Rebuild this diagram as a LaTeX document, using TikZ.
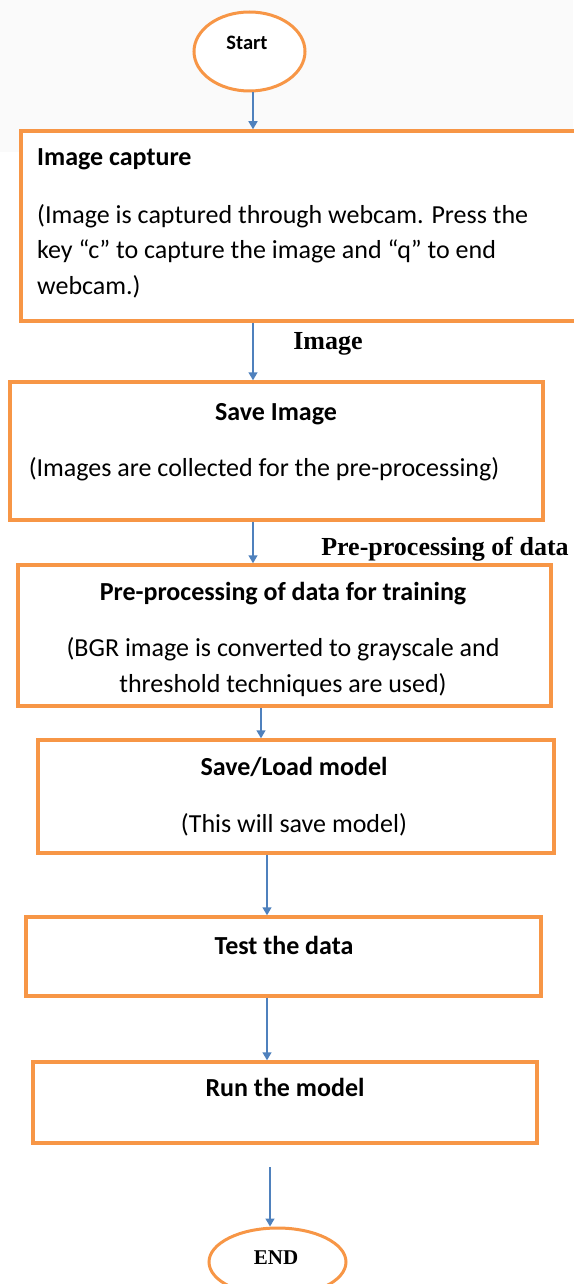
\documentclass[tikz,border=0pt]{standalone}
\usepackage{fontspec}
\setmainfont{Carlito}
\newfontfamily\labelfont{Liberation Serif}
\usetikzlibrary{arrows.meta,positioning,shapes.geometric}
\definecolor{boxorange}{HTML}{F79646}
\definecolor{arrowblue}{HTML}{4F81BD}
\definecolor{panelgray}{HTML}{FAFAFA}
\tikzset{
  stepbox/.style={draw=boxorange, line width=3.5pt, fill=white, rectangle, inner sep=0pt},
  term/.style={draw=boxorange, line width=3pt, fill=white, ellipse, inner sep=0pt},
  head/.style={font=\fontsize{26}{30}\selectfont\bfseries, inner sep=0pt, anchor=mid},
  body/.style={font=\fontsize{26}{35.5}\selectfont, inner sep=0pt},
  edgelabel/.style={font=\labelfont\fontsize{26}{30}\selectfont\bfseries, inner sep=0pt, anchor=mid},
  flow/.style={draw=arrowblue, line width=1.5pt, -{Triangle[width=9pt,length=8pt]}},
}
\begin{document}
\begin{tikzpicture}[x=1pt, y=-1pt]
    \useasboundingbox (0,0) rectangle (573,1284);
    \fill[panelgray] (0,0) rectangle (573,152);

    \node[term, minimum width=111pt, minimum height=79pt] (start) at (249.5,51.5) {};
    \node[head, font=\fontsize{20.5}{24}\selectfont\bfseries] (startT) at (247,47) {Start};

    \node[stepbox, minimum width=555pt, minimum height=190pt] (cap) at (298.5,226) {};
    \node[head, anchor=mid west] (capT) at (37,163) {Image capture};
    \node[body, anchor=west, align=left] (capB) at (37,251) {(Image is captured through webcam. Press the\\key “c” to capture the image and “q” to end\\webcam.)};

    \node[stepbox, minimum width=533pt, minimum height=138pt] (save) at (276.5,451) {};
    \node[head] (saveT) at (276,418) {Save Image};
    \node[body, anchor=mid] (saveB) at (264,474) {(Images are collected for the pre-processing)};

    \node[stepbox, minimum width=533pt, minimum height=141pt] (prep) at (284.5,635.5) {};
    \node[head] (prepT) at (283,598) {Pre-processing of data for training};
    \node[body, align=center] (prepB) at (283,667) {(BGR image is converted to grayscale and\\threshold techniques are used)};

    \node[stepbox, minimum width=516pt, minimum height=113pt] (model) at (296,796.5) {};
    \node[head] (modelT) at (294,773) {Save/Load model};
    \node[body, anchor=mid] (modelB) at (294,830) {(This will save model)};

    \node[stepbox, minimum width=515pt, minimum height=79pt] (test) at (283.5,956.5) {};
    \node[head] (testT) at (284,952) {Test the data};

    \node[stepbox, minimum width=504pt, minimum height=81pt] (run) at (285,1102.5) {};
    \node[head] (runT) at (285,1094) {Run the model};

    \node[term, minimum width=137pt, minimum height=68pt] (done) at (277.5,1262) {};
    \node[edgelabel, font=\labelfont\fontsize{21}{25}\selectfont\bfseries] (doneT) at (276,1262) {END};

    \node[edgelabel] (imgL) at (328,347) {Image};
    \node[edgelabel] (prepL) at (445,553) {Pre-processing of data};

    \coordinate (runOut) at (270,1167);

    \draw[flow] (253,0 |- start.south) -- (253,0 |- cap.north);
    \draw[flow] (253,0 |- cap.south) -- (253,0 |- save.north);
    \draw[flow] (253,0 |- save.south) -- (253,0 |- prep.north);
    \draw[flow] (261,0 |- prep.south) -- (261,0 |- model.north);
    \draw[flow] (267,0 |- model.south) -- (267,0 |- test.north);
    \draw[flow] (267,0 |- test.south) -- (267,0 |- run.north);
    \draw[flow] (runOut) -- (runOut |- done.north);
\end{tikzpicture}
\end{document}
